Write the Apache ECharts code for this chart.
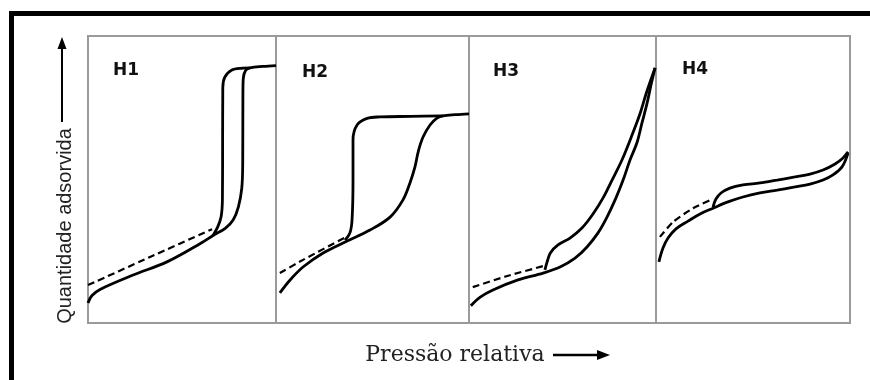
<!DOCTYPE html>
<html>
<head>
<meta charset="utf-8">
<script src="https://cdn.jsdelivr.net/npm/echarts@6/dist/echarts.min.js"></script>
<style>
  html, body { margin: 0; padding: 0; background: #fff; }
  #chart { width: 870px; height: 380px; }
</style>
</head>
<body>
<div id="chart"></div>
<script>
// Panel titles (IUPAC hysteresis loop types)
const panelLabels = ['H1', 'H2', 'H3', 'H4'];

// Relative pressure (0..1) vs. amount adsorbed (0..1), per panel
const h1Adsorption = [[0,0.07],[0.02,0.095],[0.064,0.117],[0.24,0.167],[0.42,0.213],[0.6,0.278],[0.665,0.305],[0.73,0.33],[0.772,0.359],[0.8,0.405],[0.818,0.47],[0.823,0.56],[0.824,0.8],[0.826,0.852],[0.838,0.88],[0.862,0.889],[0.93,0.894],[1,0.897]];
const h1Desorption = [[0.665,0.305],[0.69,0.335],[0.708,0.37],[0.715,0.43],[0.716,0.6],[0.717,0.82],[0.727,0.856],[0.763,0.881],[0.824,0.888],[0.862,0.889]];
const h1Dashed = [[0,0.132],[0.33,0.23],[0.66,0.327]];

const h2Adsorption = [[0.02,0.105],[0.073,0.15],[0.14,0.195],[0.244,0.244],[0.358,0.282],[0.487,0.324],[0.591,0.369],[0.658,0.429],[0.694,0.488],[0.72,0.544],[0.738,0.6],[0.762,0.648],[0.798,0.69],[0.834,0.714],[0.865,0.722],[0.93,0.726],[1,0.729]];
const h2Desorption = [[0.358,0.289],[0.383,0.314],[0.394,0.359],[0.399,0.498],[0.399,0.638],[0.42,0.69],[0.472,0.713],[0.539,0.718],[0.7,0.72],[0.865,0.722]];
const h2Dashed = [[0.02,0.174],[0.14,0.22],[0.358,0.298]];

const h3Adsorption = [[0.01,0.06],[0.06,0.09],[0.128,0.115],[0.262,0.15],[0.396,0.174],[0.487,0.195],[0.567,0.226],[0.631,0.265],[0.69,0.314],[0.738,0.369],[0.786,0.436],[0.824,0.498],[0.861,0.568],[0.898,0.628],[0.925,0.697],[0.952,0.765],[0.973,0.829],[0.995,0.889]];
const h3Desorption = [[0.406,0.185],[0.417,0.211],[0.435,0.244],[0.476,0.272],[0.54,0.296],[0.604,0.331],[0.663,0.38],[0.717,0.436],[0.765,0.498],[0.818,0.568],[0.866,0.645],[0.914,0.728],[0.95,0.805],[0.995,0.889]];
const h3Dashed = [[0.02,0.125],[0.2,0.163],[0.406,0.2]];

const h4Adsorption = [[0.015,0.213],[0.036,0.261],[0.062,0.296],[0.103,0.328],[0.165,0.355],[0.227,0.38],[0.294,0.4],[0.371,0.422],[0.448,0.439],[0.536,0.453],[0.624,0.463],[0.716,0.474],[0.794,0.484],[0.861,0.498],[0.912,0.516],[0.959,0.544],[0.99,0.592]];
const h4Desorption = [[0.294,0.404],[0.309,0.432],[0.335,0.453],[0.381,0.47],[0.448,0.481],[0.536,0.488],[0.624,0.498],[0.716,0.509],[0.794,0.519],[0.861,0.533],[0.923,0.554],[0.964,0.575],[0.99,0.596]];
const h4Dashed = [[0.02,0.3],[0.088,0.352],[0.191,0.4],[0.294,0.432]];

const panels = [
  { ads: h1Adsorption, des: h1Desorption, dash: h1Dashed, left: 88,  width: 188 },
  { ads: h2Adsorption, des: h2Desorption, dash: h2Dashed, left: 276, width: 193 },
  { ads: h3Adsorption, des: h3Desorption, dash: h3Dashed, left: 469, width: 187 },
  { ads: h4Adsorption, des: h4Desorption, dash: h4Dashed, left: 656, width: 194 }
];

const TOP = 36, HEIGHT = 287;
const grids = [], xAxes = [], yAxes = [], series = [];

panels.forEach((p, i) => {
  grids.push({
    left: p.left, top: TOP, width: p.width, height: HEIGHT,
    show: true, borderColor: '#9a9a9a', borderWidth: 2, backgroundColor: '#fff'
  });
  const hidden = { show: false };
  xAxes.push({ gridIndex: i, type: 'value', min: 0, max: 1, axisLine: hidden, axisTick: hidden, axisLabel: hidden, splitLine: hidden });
  yAxes.push({ gridIndex: i, type: 'value', min: 0, max: 1, axisLine: hidden, axisTick: hidden, axisLabel: hidden, splitLine: hidden });
  const base = { type: 'line', xAxisIndex: i, yAxisIndex: i, showSymbol: false, smooth: 0.35, silent: true };
  series.push(Object.assign({}, base, { data: p.ads, lineStyle: { color: '#000', width: 2.8 } }));
  series.push(Object.assign({}, base, { data: p.des, lineStyle: { color: '#000', width: 2.8 } }));
  series.push(Object.assign({}, base, { data: p.dash, smooth: 0.2, lineStyle: { color: '#000', width: 2.2, type: [7, 4] } }));
});

// Panel titles sit inside each grid, near the upper-left corner
const titleOffsets = [[113, 71], [302, 73], [493, 72], [682, 70]];
const graphics = panelLabels.map((t, i) => ({
  type: 'text', x: titleOffsets[i][0], y: titleOffsets[i][1],
  style: { text: t, fill: '#111', font: 'bold 17px "DejaVu Sans"', textVerticalAlign: 'middle' }
}));

// Outer frame: heavy top and left rules
graphics.push(
  { type: 'rect', shape: { x: 9, y: 11, width: 861, height: 5 }, style: { fill: '#000' } },
  { type: 'rect', shape: { x: 9, y: 11, width: 5, height: 369 }, style: { fill: '#000' } }
);

// Vertical axis title with upward arrow
graphics.push(
  { type: 'line', shape: { x1: 62, y1: 122, x2: 62, y2: 46 }, style: { stroke: '#000', lineWidth: 2 } },
  { type: 'polygon', shape: { points: [[62, 37], [57.5, 49], [66.5, 49]] }, style: { fill: '#000' } },
  { type: 'text', x: 65, y: 226, rotation: Math.PI / 2,
    style: { text: 'Quantidade adsorvida', fill: '#222', font: '20px "Liberation Sans"', textAlign: 'center', textVerticalAlign: 'middle' } }
);

// Horizontal axis title with rightward arrow
graphics.push(
  { type: 'text', x: 455, y: 355,
    style: { text: 'Pressão relativa', fill: '#222', font: '22px "DejaVu Serif"', textAlign: 'center', textVerticalAlign: 'middle' } },
  { type: 'line', shape: { x1: 553, y1: 355, x2: 600, y2: 355 }, style: { stroke: '#000', lineWidth: 2.4 } },
  { type: 'polygon', shape: { points: [[610, 355], [597, 350], [597, 360]] }, style: { fill: '#000' } }
);

const chart = echarts.init(document.getElementById('chart'), null, { renderer: 'canvas' });
chart.setOption({
  animation: false,
  backgroundColor: '#fff',
  grid: grids,
  xAxis: xAxes,
  yAxis: yAxes,
  series: series,
  graphic: graphics
});
</script>
</body>
</html>
